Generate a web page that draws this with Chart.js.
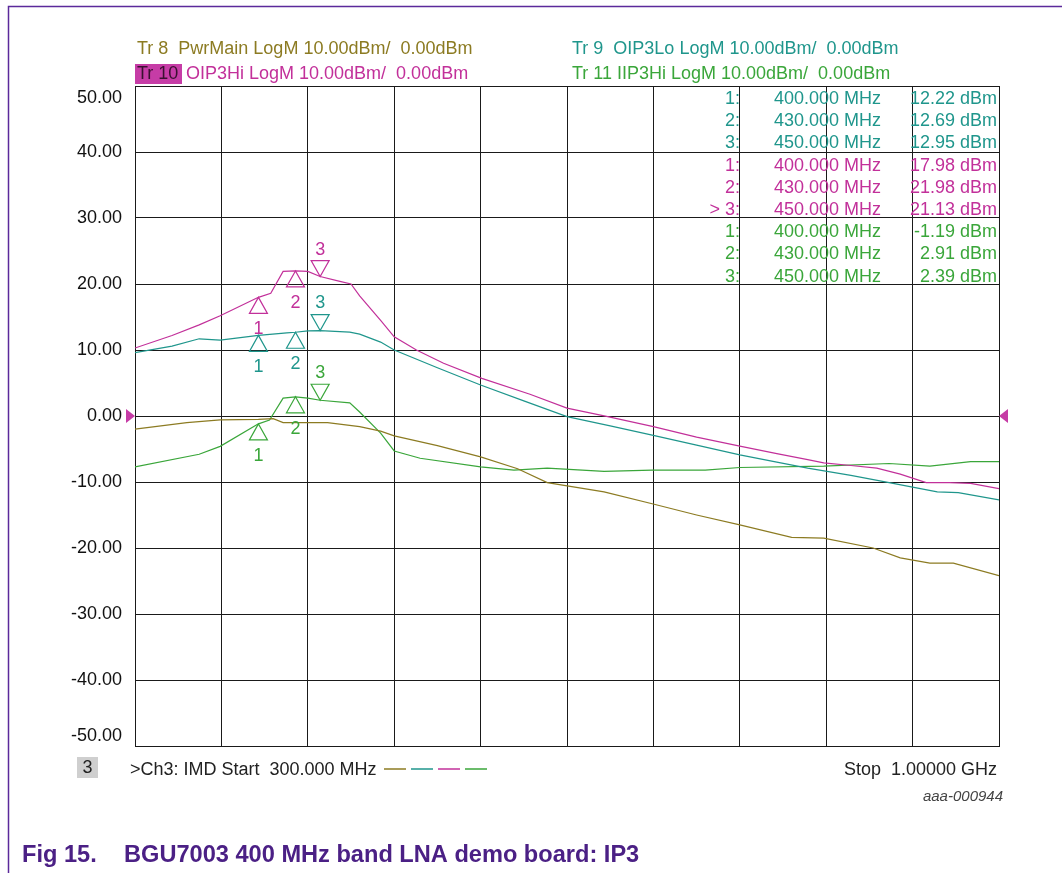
<!DOCTYPE html>
<html>
<head>
<meta charset="utf-8">
<script src="https://cdn.jsdelivr.net/npm/chart.js@4.4.1/dist/chart.umd.min.js"></script>
<style>
  html, body { margin: 0; padding: 0; background: #fff; }
  #wrap { width: 1062px; height: 873px; position: relative; }
</style>
</head>
<body>
<div id="wrap"><canvas id="ip3" width="1062" height="873"></canvas></div>
<script>
// axis ticks
const freqTicks = [300, 370, 440, 510, 580, 650, 720, 790, 860, 930, 1000];
const dbTicks = [50, 40, 30, 20, 10, 0, -10, -20, -30, -40, -50];

// Tr 8 PwrMain
const pwrMainFreq = [300, 342, 369, 400, 412, 420, 456, 482, 499, 510, 545, 580, 610, 634, 680, 719, 755, 790, 832, 858, 898, 920, 944, 963, 1000];
const pwrMain = [-2.0, -1.0, -0.6, -0.5, -0.4, -1.0, -1.0, -1.6, -2.3, -3.0, -4.5, -6.2, -8.0, -10.1, -11.5, -13.3, -15.0, -16.5, -18.4, -18.5, -20.0, -21.5, -22.3, -22.3, -24.2];

// Tr 9 OIP3Lo
const oip3LoFreq = [300, 330, 352, 369, 400, 423, 430, 440, 450, 474, 482, 499, 510, 545, 580, 615, 650, 685, 719, 755, 790, 820, 845, 880, 911, 950, 967, 1000];
const oip3Lo = [9.6, 10.6, 11.7, 11.5, 12.22, 12.6, 12.69, 12.9, 12.95, 12.7, 12.4, 11.2, 10.0, 7.3, 4.7, 2.3, -0.1, -1.5, -2.9, -4.4, -5.9, -7.0, -7.9, -9.0, -10.1, -11.5, -11.6, -12.7];

// Tr 10 OIP3Hi
const oip3HiFreq = [300, 330, 352, 369, 400, 410, 420, 430, 440, 450, 466, 475, 482, 499, 510, 528, 550, 581, 620, 650, 683, 720, 755, 791, 820, 845, 858, 880, 901, 920, 941, 960, 977, 1000];
const oip3Hi = [10.3, 12.2, 13.8, 15.2, 17.98, 18.6, 21.9, 21.98, 21.9, 21.13, 20.4, 20.0, 18.2, 14.5, 12.0, 10.0, 8.0, 5.7, 3.3, 1.2, -0.1, -1.6, -3.2, -4.6, -5.7, -6.6, -7.1, -7.5, -7.9, -8.8, -10.1, -10.1, -10.2, -11.0];

// Tr 11 IIP3Hi
const iip3HiFreq = [300, 352, 369, 400, 409, 420, 430, 440, 450, 474, 482, 499, 510, 531, 580, 607, 634, 680, 719, 762, 790, 858, 911, 944, 977, 1000];
const iip3Hi = [-7.7, -5.8, -4.6, -1.19, -0.6, 2.7, 2.91, 2.7, 2.39, 2.0, 0.6, -2.6, -5.3, -6.4, -7.7, -8.2, -7.9, -8.4, -8.2, -8.2, -7.8, -7.6, -7.2, -7.6, -6.9, -6.9];

// markers
const markerFreqs = [400, 430, 450];
const markerLo = [12.22, 12.69, 12.95];
const markerHi = [17.98, 21.98, 21.13];
const markerIip3 = [-1.19, 2.91, 2.39];

const OLIVE = '#8c7b22';
const TEAL = '#1f968c';
const MAGENTA = '#c2309a';
const GREEN = '#3aa63a';

const FONT = '18px "Liberation Sans", Arial, sans-serif';

const pts = (xs, ys) => xs.map((x, i) => ({ x: x, y: ys[i] }));

const fmtMHz = f => f.toFixed(3) + ' MHz';
const fmtDb = v => v.toFixed(2) + ' dBm';

const overlay = {
  id: 'overlay',
  beforeDraw(chart) {
    const c = chart.ctx;
    c.save();
    c.fillStyle = '#fff';
    c.fillRect(0, 0, chart.width, chart.height);
    c.restore();
  },
  afterDraw(chart) {
    const c = chart.ctx;
    const xs = chart.scales.x, ys = chart.scales.y;
    const area = chart.chartArea;
    c.save();

    // page frame
    c.strokeStyle = '#5b2a9b';
    c.lineWidth = 1.5;
    c.beginPath();
    c.moveTo(1062, 6.5);
    c.lineTo(8.5, 6.5);
    c.lineTo(8.5, 873);
    c.stroke();

    // y labels
    c.font = FONT;
    c.fillStyle = '#111';
    c.textAlign = 'right';
    c.textBaseline = 'middle';
    dbTicks.forEach(v => {
      let y = ys.getPixelForValue(v);
      y = Math.min(Math.max(y, area.top + 12), area.bottom - 10);
      c.fillText(v.toFixed(2), 122, y);
    });

    // header
    c.textAlign = 'left';
    c.fillStyle = OLIVE;
    c.fillText('Tr 8  PwrMain LogM 10.00dBm/  0.00dBm', 137, 49);
    c.fillStyle = TEAL;
    c.fillText('Tr 9  OIP3Lo LogM 10.00dBm/  0.00dBm', 572, 49);
    c.fillStyle = GREEN;
    c.fillText('Tr 11 IIP3Hi LogM 10.00dBm/  0.00dBm', 572, 74);
    c.fillStyle = '#c63ca6';
    c.fillRect(135, 64, 47, 20);
    c.fillStyle = '#3a1030';
    c.fillText('Tr 10', 137, 74);
    c.fillStyle = MAGENTA;
    c.fillText('OIP3Hi LogM 10.00dBm/  0.00dBm', 186, 74);

    // marker table
    const groups = [[TEAL, markerLo], [MAGENTA, markerHi], [GREEN, markerIip3]];
    let row = 0;
    groups.forEach(([col, vals]) => {
      vals.forEach((v, i) => {
        const y = 99 + row * 22.2;
        c.fillStyle = col;
        c.textAlign = 'right';
        c.fillText((i + 1) + ':', 740, y);
        if (row === 5) c.fillText('> ', 725, y);
        c.fillText(fmtMHz(markerFreqs[i]), 881, y);
        c.fillText(fmtDb(v), 997, y);
        row++;
      });
    });

    // markers on traces
    const tri = (x, y, up, col, label) => {
      c.strokeStyle = col;
      c.lineWidth = 1.2;
      c.beginPath();
      if (up) {
        c.moveTo(x, y); c.lineTo(x - 9, y + 16); c.lineTo(x + 9, y + 16);
      } else {
        c.moveTo(x, y); c.lineTo(x - 9, y - 16); c.lineTo(x + 9, y - 16);
      }
      c.closePath();
      c.stroke();
      c.fillStyle = col;
      c.textAlign = 'center';
      c.fillText(label, x, up ? y + 32 : y - 27);
    };
    [[TEAL, markerLo], [MAGENTA, markerHi], [GREEN, markerIip3]].forEach(([col, vals]) => {
      vals.forEach((v, i) => {
        tri(xs.getPixelForValue(markerFreqs[i]), ys.getPixelForValue(v), i < 2, col, String(i + 1));
      });
    });

    // reference level arrows
    const y0 = ys.getPixelForValue(0);
    c.fillStyle = '#c63ca6';
    c.beginPath();
    c.moveTo(area.left, y0); c.lineTo(area.left - 9, y0 - 7); c.lineTo(area.left - 9, y0 + 7);
    c.closePath(); c.fill();
    c.beginPath();
    c.moveTo(area.right, y0); c.lineTo(area.right + 9, y0 - 7); c.lineTo(area.right + 9, y0 + 7);
    c.closePath(); c.fill();

    // status line
    c.fillStyle = '#cfcfcf';
    c.fillRect(77, 757, 21, 21);
    c.fillStyle = '#222';
    c.textAlign = 'center';
    c.font = '18px "Liberation Sans", Arial, sans-serif';
    c.fillText('3', 87.5, 768);
    c.textAlign = 'left';
    c.fillText('>Ch3: IMD Start  300.000 MHz', 130, 770);
    [OLIVE, TEAL, MAGENTA, GREEN].forEach((col, i) => {
      c.strokeStyle = col;
      c.lineWidth = 1.5;
      c.beginPath();
      c.moveTo(384 + i * 27, 769);
      c.lineTo(406 + i * 27, 769);
      c.stroke();
    });
    c.textAlign = 'right';
    c.fillText('Stop  1.00000 GHz', 997, 770);

    c.font = 'italic 15px "Liberation Sans", Arial, sans-serif';
    c.fillStyle = '#444';
    c.fillText('aaa-000944', 1003, 797);

    // caption
    c.textAlign = 'left';
    c.font = 'bold 23.6px "Liberation Sans", Arial, sans-serif';
    c.fillStyle = '#4b2085';
    c.fillText('Fig 15.', 22, 855);
    c.fillText('BGU7003 400 MHz band LNA demo board: IP3', 124, 855);
    c.restore();
  }
};

const lineDs = (label, data, col) => ({
  label: label,
  data: data,
  borderColor: col,
  borderWidth: 1.2,
  pointRadius: 0,
  tension: 0,
  fill: false
});

new Chart(document.getElementById('ip3'), {
  type: 'line',
  data: {
    datasets: [
      lineDs('PwrMain', pts(pwrMainFreq, pwrMain), OLIVE),
      lineDs('OIP3Lo', pts(oip3LoFreq, oip3Lo), TEAL),
      lineDs('OIP3Hi', pts(oip3HiFreq, oip3Hi), MAGENTA),
      lineDs('IIP3Hi', pts(iip3HiFreq, iip3Hi), GREEN)
    ]
  },
  options: {
    responsive: false,
    animation: false,
    devicePixelRatio: 1,
    layout: { padding: { left: 135, right: 63, top: 86, bottom: 127 } },
    plugins: { legend: { display: false }, tooltip: { enabled: false } },
    scales: {
      x: {
        type: 'linear',
        min: 300,
        max: 1000,
        afterBuildTicks: s => { s.ticks = freqTicks.map(v => ({ value: v })); },
        afterFit: s => { s.height = 0; },
        ticks: { display: false },
        grid: { color: '#1a1a1a', lineWidth: 1, drawTicks: false },
        border: { color: '#1a1a1a', width: 1 }
      },
      y: {
        min: -50,
        max: 50,
        afterBuildTicks: s => { s.ticks = dbTicks.map(v => ({ value: v })); },
        afterFit: s => { s.width = 0; },
        ticks: { display: false },
        grid: { color: '#1a1a1a', lineWidth: 1, drawTicks: false },
        border: { color: '#1a1a1a', width: 1 }
      }
    }
  },
  plugins: [overlay]
});
</script>
</body>
</html>
